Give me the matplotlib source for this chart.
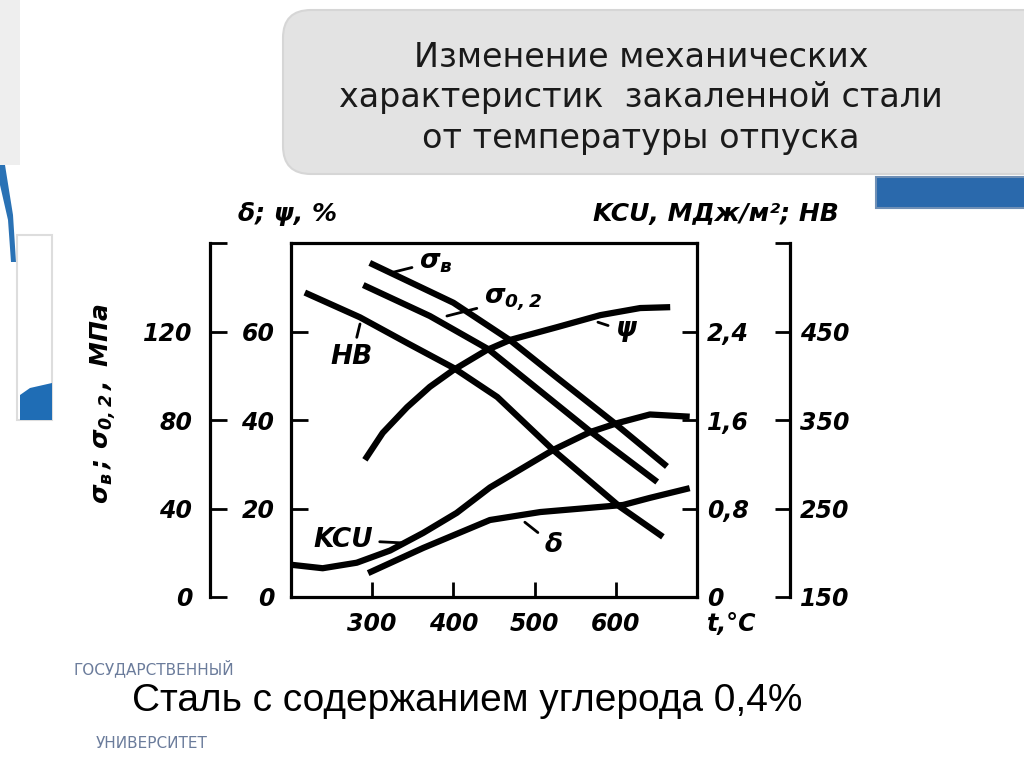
import matplotlib
matplotlib.use("Agg")
import matplotlib.pyplot as plt
from matplotlib.patches import FancyBboxPatch, Rectangle, Polygon
from matplotlib.transforms import IdentityTransform

W, H = 1024, 768

# tempering temperature, °C, and values
t_sig_b = [297, 400, 470, 528, 597, 663]
sig_b = [151, 133, 116, 99, 79, 59]                # σв, axis units as printed

t_sig_02 = [289, 371, 443, 568, 651]
sig_02 = [141, 127, 112, 75, 52]                   # σ0,2

t_hb = [217, 285, 343, 400, 454, 523, 605, 658]
hb = [494, 466, 437, 409, 376, 316, 252, 218]      # HB

t_psi = [291, 313, 343, 371, 400, 441, 470, 528, 581, 630, 667]
psi = [31.0, 37.1, 42.9, 47.5, 51.3, 55.8, 58.1, 61.0, 63.7, 65.3, 65.5]   # ψ, %

t_kcu = [202, 239, 281, 322, 363, 404, 445, 523, 568, 601, 642, 691]
kcu = [0.29, 0.26, 0.31, 0.42, 0.58, 0.76, 0.99, 1.33, 1.49, 1.57, 1.65, 1.63]  # KCU, МДж/м²

t_delta = [295, 363, 445, 507, 609, 642, 691]
delta = [5.4, 11.1, 17.4, 19.2, 20.8, 22.4, 24.6]  # δ, %

x_ticks = [300, 400, 500, 600]
pct_ticks = [0, 20, 40, 60]
sig_ticks = [0, 40, 80, 120, 160]
sig_labels = ["0", "40", "80", "120", ""]
kcu_ticks = [0, 0.8, 1.6, 2.4]
kcu_labels = ["0", "0,8", "1,6", "2,4"]
hb_ticks = [150, 250, 350, 450, 550]
hb_labels = ["150", "250", "350", "450", ""]

plt.rcParams["font.family"] = ["DejaVu Sans"]
plt.rcParams["font.style"] = "italic"
plt.rcParams["font.weight"] = "bold"
plt.rcParams["mathtext.fontset"] = "custom"
plt.rcParams["mathtext.it"] = "DejaVu Sans:italic:bold"
plt.rcParams["mathtext.rm"] = "DejaVu Sans:italic:bold"
plt.rcParams["mathtext.bf"] = "DejaVu Sans:italic:bold"


def fig_box(x0, y0, x1, y1):
    """pixel box (top-left origin) -> figure fraction rect"""
    return [x0 / W, 1 - y1 / H, (x1 - x0) / W, (y1 - y0) / H]


def px_patch(patch):
    patch.set_transform(IdentityTransform())
    fig.add_artist(patch)


fig = plt.figure(figsize=(W / 100, H / 100), dpi=100)
fig.patch.set_facecolor("white")

# slide decoration
px_patch(FancyBboxPatch((283, H - 174), 800, 164, boxstyle="round,pad=0,rounding_size=28",
                        fc="#e3e3e3", ec="#d6d6d6", lw=1.5))
px_patch(Rectangle((876, H - 208), 150, 31, fc="#2a69ac", ec="#6f8fb5", lw=1.5))
px_patch(Rectangle((0, H - 165), 20, 165, fc="#eeeeee", ec="none"))
px_patch(Polygon([(0, H - 165), (5, H - 165), (13, H - 215), (16, H - 262), (11, H - 262), (8, H - 220),
                  (0, H - 185)], fc="#2a72b5", ec="none"))
px_patch(Rectangle((17, H - 420), 35, 185, fc="white", ec="#dddddd", lw=1.5))
px_patch(Polygon([(20, H - 420), (52, H - 420), (52, H - 383), (30, H - 388), (20, H - 395)],
                 fc="#1f6db5", ec="none"))

fig.text(641 / W, 1 - 98 / H,
         "Изменение механических\nхарактеристик  закаленной стали\nот температуры отпуска",
         ha="center", va="center", fontsize=24, style="normal", weight="normal",
         linespacing=1.3, color="#1a1a1a")

logo = dict(ha="center", va="center", fontsize=11, style="normal", weight="normal",
            family=["Liberation Sans Narrow", "DejaVu Sans"], color="#51658a", alpha=0.85)
fig.text(154 / W, 1 - 668 / H, "ГОСУДАРСТВЕННЫЙ", **logo)
fig.text(152 / W, 1 - 743 / H, "УНИВЕРСИТЕТ", **logo)
fig.text(467 / W, 1 - 701 / H, "Сталь с содержанием углерода 0,4%", ha="center", va="center",
         fontsize=28, family="Liberation Sans", style="normal", weight="normal", color="black")

# chart
lw_spine = 2.3
ax = fig.add_axes(fig_box(291, 243, 697, 597))
ax.set_xlim(200, 700)
ax.set_ylim(0, 80)
for s in ax.spines.values():
    s.set_linewidth(lw_spine)
ax.set_xticks(x_ticks)
ax.set_yticks(pct_ticks)
ax.tick_params(axis="x", direction="in", length=11, width=2, pad=11, labelsize=17)
ax.tick_params(axis="y", direction="in", length=12, width=2, pad=12, labelsize=17)
ax.set_facecolor("none")

axk = ax.twinx()
axk.set_ylim(0, 3.2)
axk.set_yticks(kcu_ticks)
axk.set_yticklabels(kcu_labels)
axk.tick_params(axis="y", direction="in", length=11, width=2, pad=7, labelsize=17)
for s in axk.spines.values():
    s.set_visible(False)

axs = ax.twinx()
axs.yaxis.tick_left()
axs.spines["left"].set_position(("outward", 58))
axs.set_ylim(0, 160)
axs.set_yticks(sig_ticks)
axs.set_yticklabels(sig_labels)
axs.tick_params(axis="y", direction="in", length=12, width=2, pad=13, labelsize=17)
for name, s in axs.spines.items():
    s.set_visible(name == "left")
    s.set_linewidth(lw_spine)

axh = ax.twinx()
axh.spines["right"].set_position(("outward", 67))
axh.set_ylim(150, 550)
axh.set_yticks(hb_ticks)
axh.set_yticklabels(hb_labels)
axh.tick_params(axis="y", direction="in", length=11, width=2, pad=7, labelsize=17)
for name, s in axh.spines.items():
    s.set_visible(name == "right")
    s.set_linewidth(lw_spine)

kw = dict(color="black", lw=4.5, solid_capstyle="butt", solid_joinstyle="round", clip_on=False)
axs.plot(t_sig_b, sig_b, **kw)
axs.plot(t_sig_02, sig_02, **kw)
axh.plot(t_hb, hb, **kw)
ax.plot(t_psi, psi, **kw)
axk.plot(t_kcu, kcu, **kw)
ax.plot(t_delta, delta, **kw)

# curve labels with leader lines
lead = dict(arrowstyle="-", lw=2, color="black", shrinkA=3, shrinkB=0)
ann = dict(ha="center", va="center", fontsize=19, annotation_clip=False)
ax.annotate(r"$\sigma_в$", xy=(326, 73.4), xytext=(378, 75.8), arrowprops=lead, **ann)
ax.annotate(r"$\sigma_{0,2}$", xy=(392, 63.5), xytext=(473, 67.3), arrowprops=lead, **ann)
ax.annotate(r"$\psi$", xy=(578, 62.1), xytext=(613, 60.0), arrowprops=lead, **ann)
ax.annotate("HB", xy=(285, 61.7), xytext=(275, 54.2), arrowprops=lead, **ann)
ax.annotate("KCU", xy=(340, 12.2), xytext=(264, 12.9), arrowprops=lead, **ann)
ax.annotate(r"$\delta$", xy=(488, 16.9), xytext=(523, 11.8), arrowprops=lead, **ann)

# axis titles
fig.text(288 / W, 1 - 214 / H, "δ; ψ, %", ha="center", va="center", fontsize=18)
fig.text(716 / W, 1 - 214 / H, "KCU, МДж/м²; HB", ha="center", va="center", fontsize=18)
fig.text(707 / W, 1 - 624 / H, "t,°C", ha="left", va="center", fontsize=17)
fig.text(103 / W, 1 - 404 / H, r"$\sigma_в\,;\,\sigma_{0,2}\,,$ МПа", ha="center", va="center",
         fontsize=18, rotation=90)

fig.savefig("out.png", dpi=100)
